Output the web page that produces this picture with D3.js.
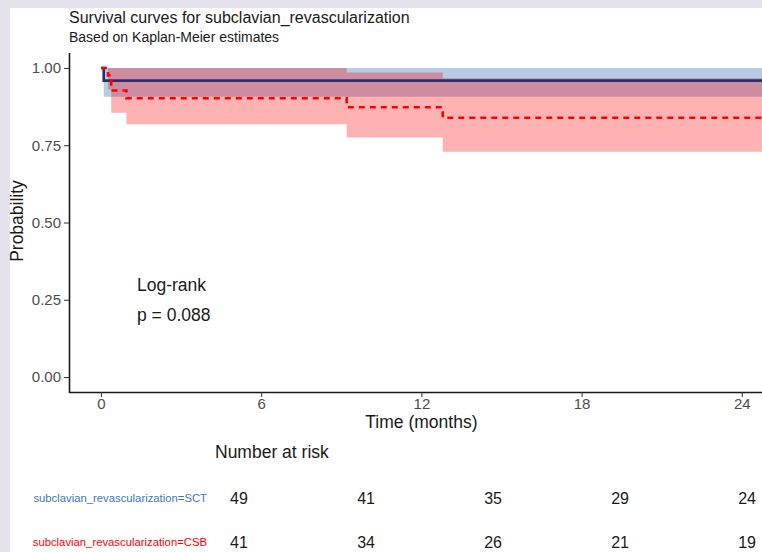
<!DOCTYPE html>
<html>
<head>
<meta charset="utf-8">
<script src="https://cdn.jsdelivr.net/npm/d3@7"></script>
<style>
  body { margin: 0; background: #e6e2ee; }
  svg { display: block; }
  text { font-family: "Liberation Sans", Arial, sans-serif; }
</style>
</head>
<body>
<svg width="762" height="552"></svg>
<script>
// Kaplan-Meier steps
var sctTime  = [0, 0.1, 25];
var sctSurv  = [1, 0.959, 0.959];
var sctUpper = [1, 1, 1];
var sctLower = [1, 0.907, 0.907];

var csbTime  = [0, 0.26, 0.38, 0.95, 9.2, 12.8, 25];
var csbSurv  = [1, 0.976, 0.927, 0.902, 0.873, 0.839, 0.839];
var csbUpper = [1, 1, 1, 1, 0.985, 0.967, 0.967];
var csbLower = [1, 0.93, 0.855, 0.818, 0.775, 0.729, 0.729];

var xTicks = [0, 6, 12, 18, 24];
var yTicks = [0, 0.25, 0.5, 0.75, 1];

var riskLabels = ["subclavian_revascularization=SCT", "subclavian_revascularization=CSB"];
var riskSCT = [49, 41, 35, 29, 24];
var riskCSB = [41, 34, 26, 21, 19];

var pText = ["Log-rank", "p = 0.088"];

var blue = "#3f77bd", red = "#ff0000";

var svg = d3.select("svg");

svg.append("rect")
  .attr("x", 10).attr("y", 8)
  .attr("width", 752).attr("height", 544)
  .attr("fill", "#fff");

var x = d3.scaleLinear().domain([-1.2, 25.2]).range([69, 773.8]);
var y = d3.scaleLinear().domain([-0.05, 1.05]).range([392.5, 52.5]);

function rows(t, s, lo, hi) {
  return t.map(function(d, i) { return {t: d, s: s[i], lo: lo[i], hi: hi[i]}; });
}
var sct = rows(sctTime, sctSurv, sctLower, sctUpper);
var csb = rows(csbTime, csbSurv, csbLower, csbUpper);

var area = d3.area().curve(d3.curveStepAfter)
  .x(function(d) { return x(d.t); })
  .y0(function(d) { return y(d.lo); })
  .y1(function(d) { return y(d.hi); });
var line = d3.line().curve(d3.curveStepAfter)
  .x(function(d) { return x(d.t); })
  .y(function(d) { return y(d.s); });

var plot = svg.append("g");

plot.append("path").datum(sct).attr("d", area)
  .attr("fill", blue).attr("fill-opacity", 0.38);
plot.append("path").datum(csb).attr("d", area)
  .attr("fill", red).attr("fill-opacity", 0.3);

plot.append("path").datum(sct).attr("d", line)
  .attr("fill", "none").attr("stroke", "#302c6c").attr("stroke-width", 2.6);
plot.append("path").datum(csb).attr("d", line)
  .attr("fill", "none").attr("stroke", red).attr("stroke-width", 2.6)
  .attr("stroke-dasharray", "6,5");

// axes
var xAxis = svg.append("g")
  .attr("transform", "translate(0," + 392 + ")")
  .call(d3.axisBottom(x).tickValues(xTicks).tickSize(5).tickSizeOuter(0).tickPadding(1));
var yAxis = svg.append("g")
  .attr("transform", "translate(" + 69 + ",0)")
  .call(d3.axisLeft(y).tickValues(yTicks).tickSize(5).tickSizeOuter(0).tickPadding(3)
    .tickFormat(d3.format(".2f")));

[xAxis, yAxis].forEach(function(ax) {
  ax.select(".domain").attr("stroke", "#1a1a1a").attr("stroke-width", 1.6);
  ax.selectAll(".tick line").attr("stroke", "#333");
  ax.selectAll(".tick text")
    .attr("fill", "#4d4d4d")
    .style("font-size", "15px")
    .style("font-family", "'Liberation Sans', Arial, sans-serif");
});

// titles
svg.append("text").attr("x", 69).attr("y", 23)
  .style("font-size", "16px").attr("fill", "#1a1a1a")
  .text("Survival curves for subclavian_revascularization");
svg.append("text").attr("x", 69).attr("y", 42)
  .style("font-size", "14px").attr("fill", "#1a1a1a")
  .text("Based on Kaplan-Meier estimates");

svg.append("text")
  .attr("transform", "translate(23,221) rotate(-90)")
  .attr("text-anchor", "middle")
  .style("font-size", "17.5px").attr("fill", "#1a1a1a")
  .text("Probability");
svg.append("text").attr("x", x(12)).attr("y", 428)
  .attr("text-anchor", "middle")
  .style("font-size", "17.5px").attr("fill", "#1a1a1a")
  .text("Time (months)");

svg.selectAll(".pval").data(pText).enter().append("text")
  .attr("x", 137)
  .attr("y", function(d, i) { return 290.5 + i * 30; })
  .style("font-size", "17.5px").attr("fill", "#1a1a1a")
  .text(function(d) { return d; });

// risk table
var xr = d3.scaleLinear().domain([-1.2, 25.2]).range([213.6, 772.5]);
var yr = d3.scaleOrdinal().domain(riskLabels).range([498, 542]);

svg.append("text").attr("x", 215).attr("y", 458)
  .style("font-size", "17.5px").attr("fill", "#1a1a1a")
  .text("Number at risk");

svg.selectAll(".rlab").data(riskLabels).enter().append("text")
  .attr("x", 207)
  .attr("y", function(d) { return yr(d); })
  .attr("dy", "0.35em")
  .attr("text-anchor", "end")
  .style("font-size", "11.3px")
  .attr("fill", function(d, i) { return i === 0 ? blue : red; })
  .text(function(d) { return d; });

[riskSCT, riskCSB].forEach(function(vals, r) {
  svg.selectAll(".risk" + r).data(vals).enter().append("text")
    .attr("x", function(d, i) { return xr(xTicks[i]); })
    .attr("y", yr(riskLabels[r]))
    .attr("dy", "0.35em")
    .attr("text-anchor", "middle")
    .style("font-size", "16px").attr("fill", "#1a1a1a")
    .text(function(d) { return d; });
});
</script>
</body>
</html>
